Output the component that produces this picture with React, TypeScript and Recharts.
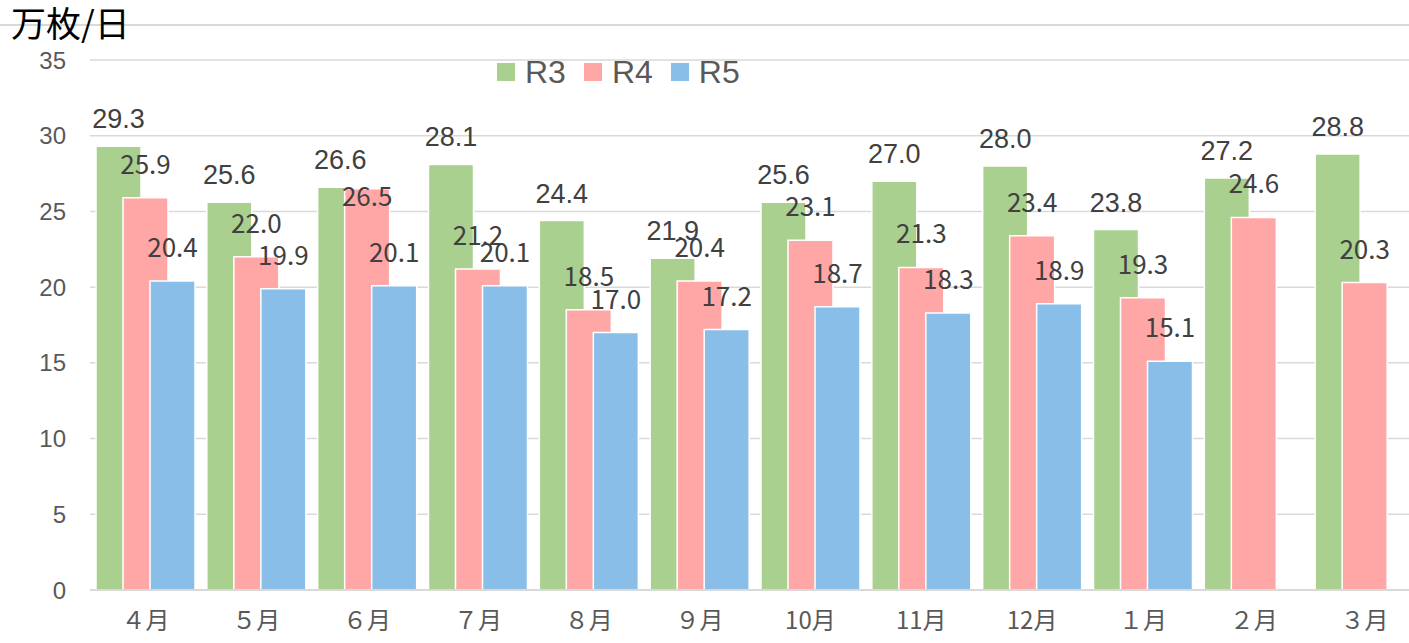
import { BarChart, Bar, XAxis, YAxis, CartesianGrid, LabelList } from "recharts";

const MONTHS = ["４月", "５月", "６月", "７月", "８月", "９月", "10月", "11月", "12月", "１月", "２月", "３月"];
const R3 = [29.3, 25.6, 26.6, 28.1, 24.4, 21.9, 25.6, 27.0, 28.0, 23.8, 27.2, 28.8];
const R4 = [25.9, 22.0, 26.5, 21.2, 18.5, 20.4, 23.1, 21.3, 23.4, 19.3, 24.6, 20.3];
const R5 = [20.4, 19.9, 20.1, 20.1, 17.0, 17.2, 18.7, 18.3, 18.9, 15.1, null, null];
const Y_TICKS = [0, 5, 10, 15, 20, 25, 30, 35];

const SERIES = [
  { key: "R3", color: "#A9D08E" },
  { key: "R4", color: "#FFA7A7" },
  { key: "R5", color: "#89BEE8" },
];

const data = MONTHS.map((m, i) => ({ month: m, R3: R3[i], R4: R4[i], R5: R5[i] }));

const fmt = (v: unknown) => (v == null ? "" : Number(v).toFixed(1));

const LATIN = "'Liberation Sans', Arial, sans-serif";
const JP = "'Noto Sans CJK JP', sans-serif";

// R4 label: goes inside the bar when it would clash with the R3 label
function R4Label(props: any) {
  const { x, y, width, value, index } = props;
  if (value == null) return null;
  const clash = Math.abs(R3[index] - value) < 1;
  const ty = clash ? y + 17 : y - 24;
  return (
    <text x={x + width / 2} y={ty} textAnchor="middle" fill="#404040" fontSize={26} fontFamily={JP}>
      {fmt(value)}
    </text>
  );
}

export default function App() {
  return (
    <div style={{ position: "absolute", top: 0, left: 0, width: 1409, height: 643, overflow: "hidden", background: "#fff" }}>
      {/* frame line behind the unit */}
      <div style={{ position: "absolute", top: 24, left: 0, width: 1409, height: 0, borderTop: "2px solid #d9d9d9" }} />
      <div style={{ position: "absolute", top: 4, left: 11, fontFamily: JP, fontSize: 35, color: "#000", lineHeight: 1 }}>
        万枚/日
      </div>

      <div style={{ position: "absolute", top: 0, left: 0 }}>
        <BarChart width={1440} height={643} data={data} margin={{ top: 60, right: 20, left: 0, bottom: 0 }} barGap={-18}>
          <CartesianGrid vertical={false} stroke="#d9d9d9" strokeWidth={1.5} />
          <XAxis
            dataKey="month"
            height={53}
            tickLine={false}
            tickMargin={16}
            axisLine={{ stroke: "#d9d9d9", strokeWidth: 2 }}
            tick={{ fontSize: 24, fill: "#595959", fontFamily: JP }}
            interval={0}
          />
          <YAxis
            width={90}
            domain={[0, 35]}
            ticks={Y_TICKS}
            axisLine={false}
            tickLine={false}
            tickMargin={18}
            tick={{ fontSize: 24, fill: "#595959", fontFamily: LATIN }}
          />
          <Bar dataKey="R3" fill={SERIES[0].color} barSize={45} stroke="#fff" strokeWidth={1.5} isAnimationActive={false}>
            <LabelList dataKey="R3" position="top" offset={18} formatter={fmt} fill="#404040" fontSize={27} fontFamily={LATIN} />
          </Bar>
          <Bar dataKey="R4" fill={SERIES[1].color} barSize={45} stroke="#fff" strokeWidth={1.5} isAnimationActive={false}>
            <LabelList dataKey="R4" content={R4Label} />
          </Bar>
          <Bar dataKey="R5" fill={SERIES[2].color} barSize={45} stroke="#fff" strokeWidth={1.5} isAnimationActive={false}>
            <LabelList dataKey="R5" position="top" offset={24} formatter={fmt} fill="#404040" fontSize={26} fontFamily={JP} />
          </Bar>
        </BarChart>
      </div>

      {/* Legend */}
      <div style={{ position: "absolute", top: 56, left: 497, display: "flex", gap: 18, fontFamily: LATIN, fontSize: 32, lineHeight: 1, color: "#595959" }}>
        {SERIES.map((s) => (
          <div key={s.key} style={{ display: "flex", alignItems: "center", gap: 10 }}>
            <span style={{ width: 18, height: 18, background: s.color, display: "inline-block" }} />
            <span>{s.key}</span>
          </div>
        ))}
      </div>
    </div>
  );
}
